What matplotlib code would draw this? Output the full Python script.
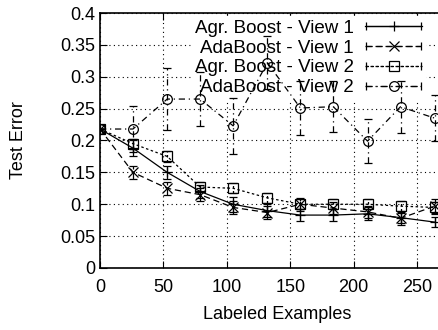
import numpy as np
import matplotlib
matplotlib.use("Agg")
import matplotlib.pyplot as plt
from matplotlib.legend_handler import HandlerErrorbar

plt.rcParams['font.family'] = ['Liberation Sans', 'DejaVu Sans']
plt.rcParams['font.size'] = 13

# labeled examples per round
examples = [0, 26, 53, 79, 105, 132, 158, 184, 211, 237, 264]

agr_v1 = [0.218, 0.188, 0.150, 0.120, 0.100, 0.090, 0.083, 0.083, 0.085, 0.079, 0.072]
agr_v1_err = [0.0, 0.012, 0.010, 0.010, 0.012, 0.010, 0.010, 0.010, 0.010, 0.008, 0.008]

ada_v1 = [0.218, 0.150, 0.125, 0.115, 0.095, 0.087, 0.100, 0.094, 0.088, 0.078, 0.097]
ada_v1_err = [0.0, 0.010, 0.010, 0.010, 0.010, 0.010, 0.010, 0.010, 0.010, 0.010, 0.012]

agr_v2 = [0.218, 0.195, 0.175, 0.127, 0.125, 0.110, 0.100, 0.100, 0.100, 0.097, 0.095]
agr_v2_err = [0.0, 0.008, 0.008, 0.008, 0.008, 0.008, 0.008, 0.008, 0.008, 0.008, 0.008]

ada_v2 = [0.218, 0.218, 0.265, 0.265, 0.223, 0.322, 0.251, 0.253, 0.199, 0.253, 0.235]
ada_v2_err = [0.0, 0.036, 0.049, 0.042, 0.044, 0.042, 0.043, 0.040, 0.035, 0.041, 0.036]

series = [
    ("Agr. Boost - View 1", agr_v1, agr_v1_err, '-', '+'),
    ("AdaBoost - View 1", ada_v1, ada_v1_err, (0, (5, 3)), 'x'),
    ("Agr. Boost - View 2", agr_v2, agr_v2_err, (0, (2, 2)), 's'),
    ("AdaBoost - View 2", ada_v2, ada_v2_err, (0, (5, 3, 1, 3)), 'o'),
]

fig = plt.figure(figsize=(4.39, 3.30), dpi=100)
ax = fig.add_axes([0.2278, 0.1879, 0.8087, 0.7727])

style = dict(color='black', linewidth=0.9, markersize=7, markerfacecolor='none',
             markeredgewidth=0.9, capsize=3, elinewidth=0.9)

proxies = []
for label, vals, err, ls, mk in series:
    eb = ax.errorbar(examples, vals, yerr=err, linestyle=ls, marker=mk, zorder=3, **style)
    eb[2][0].set_linestyle(ls)
    # key entry drawn as a horizontal bar with end caps
    px = ax.errorbar([np.nan], [np.nan], xerr=[1], linestyle=ls, marker=mk, label=label, **style)
    px[2][0].set_linestyle(ls)
    proxies.append(px)

ax.set_xlim(0, 280)
ax.set_ylim(0, 0.4)
ax.set_xticks([0, 50, 100, 150, 200, 250])
ax.set_yticks([0, 0.05, 0.1, 0.15, 0.2, 0.25, 0.3, 0.35, 0.4])
ax.set_yticklabels(['0', '0.05', '0.1', '0.15', '0.2', '0.25', '0.3', '0.35', '0.4'])
ax.tick_params(direction='in', top=True, length=5, labelsize=13)
ax.tick_params(axis='x', pad=8)
ax.grid(True, color='black', linestyle=(0, (1, 3)), linewidth=0.8)
for s in ax.spines.values():
    s.set_linewidth(1.2)

ax.set_xlabel("Labeled Examples", fontsize=13, labelpad=7)
ax.set_ylabel("Test Error", fontsize=13, labelpad=24)

leg = ax.legend(handles=proxies, loc='upper right', bbox_to_anchor=(0.943, 1.025),
                markerfirst=False, handlelength=3, handletextpad=0.63,
                labelspacing=0.14, borderpad=0.2, fancybox=False, fontsize=13.5,
                handler_map={type(proxies[0]): HandlerErrorbar(xerr_size=1.45)})
leg.get_frame().set_edgecolor('white')
leg.get_frame().set_alpha(1)
leg.set_zorder(1.5)

fig.savefig("out.png", dpi=100)
